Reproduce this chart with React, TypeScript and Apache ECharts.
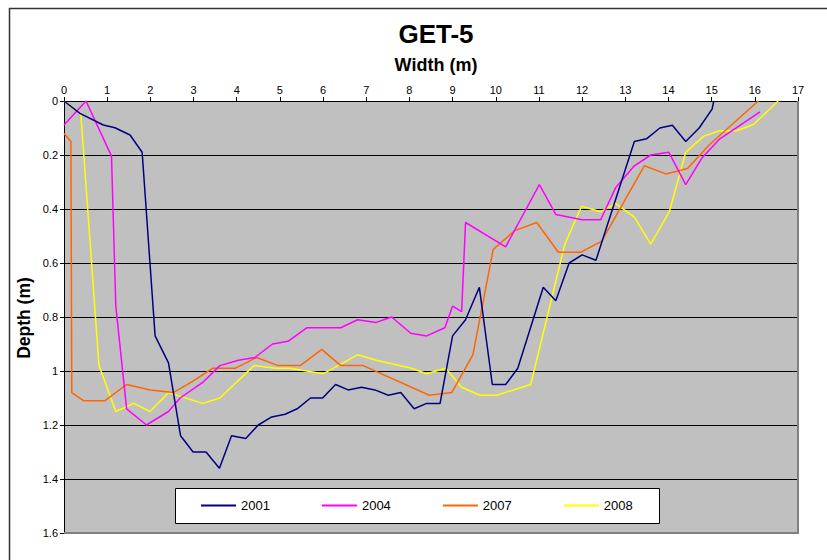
import React, { useEffect, useRef } from "react";
import * as echarts from "echarts";

const seriesNames = ["2001", "2004", "2007", "2008"];
const seriesColors = ["#000080", "#FF00FF", "#FF6600", "#FFFF00"];

const data2001: [number, number][] = [
  [0, 0], [0.37, 0.046], [0.91, 0.089], [1.18, 0.099], [1.53, 0.126], [1.81, 0.19],
  [2.11, 0.87], [2.42, 0.97], [2.7, 1.24], [2.99, 1.3], [3.29, 1.3], [3.6, 1.36],
  [3.88, 1.24], [4.21, 1.25], [4.5, 1.2], [4.81, 1.17], [5.12, 1.16], [5.4, 1.14],
  [5.71, 1.1], [5.99, 1.1], [6.29, 1.05], [6.58, 1.07], [6.89, 1.06], [7.2, 1.07],
  [7.51, 1.09], [7.8, 1.08], [8.11, 1.14], [8.4, 1.12], [8.71, 1.12], [9.0, 0.87],
  [9.3, 0.81], [9.62, 0.69], [9.92, 1.05], [10.23, 1.05], [10.51, 0.99], [11.1, 0.69],
  [11.39, 0.74], [11.7, 0.6], [12.0, 0.57], [12.32, 0.59], [13.21, 0.15], [13.49, 0.14],
  [13.8, 0.1], [14.09, 0.09], [14.4, 0.15], [14.71, 0.1], [15.01, 0.03], [15.05, 0],
];

const data2004: [number, number][] = [
  [0, 0.089], [0.51, 0], [1.1, 0.204], [1.2, 0.76], [1.45, 1.14], [1.91, 1.2],
  [2.42, 1.15], [2.69, 1.1], [3.23, 1.04], [3.61, 0.98], [4.04, 0.96], [4.42, 0.95],
  [4.83, 0.9], [5.19, 0.89], [5.62, 0.84], [6.41, 0.84], [6.8, 0.81], [7.23, 0.82],
  [7.59, 0.8], [8.03, 0.86], [8.4, 0.87], [8.82, 0.84], [9.0, 0.76], [9.21, 0.78],
  [9.3, 0.45], [10.23, 0.54], [11.01, 0.31], [11.39, 0.42], [12.0, 0.44], [12.43, 0.44],
  [12.78, 0.32], [13.21, 0.24], [13.59, 0.2], [14.01, 0.19], [14.4, 0.31], [14.78, 0.21],
  [15.19, 0.14], [16.12, 0.04],
];

const data2007: [number, number][] = [
  [0, 0.12], [0.16, 0.15], [0.18, 1.08], [0.45, 1.11], [0.95, 1.11], [1.45, 1.05],
  [2.0, 1.07], [2.53, 1.08], [2.96, 1.04], [3.44, 0.99], [3.96, 0.99], [4.46, 0.95],
  [4.96, 0.98], [5.47, 0.98], [5.97, 0.92], [6.41, 0.98], [6.93, 0.98], [8.46, 1.09],
  [8.98, 1.08], [9.47, 0.94], [9.94, 0.55], [10.44, 0.48], [10.95, 0.45], [11.45, 0.56],
  [11.97, 0.56], [12.45, 0.52], [13.44, 0.24], [13.94, 0.27], [14.44, 0.25], [14.96, 0.16],
  [16.08, 0],
];

const data2008: [number, number][] = [
  [0, 0], [0.39, 0.048], [0.81, 0.98], [1.2, 1.15], [1.62, 1.12], [1.99, 1.15],
  [2.42, 1.08], [3.21, 1.12], [3.61, 1.1], [4.4, 0.98], [4.89, 0.99], [5.23, 0.99],
  [6.01, 1.01], [6.8, 0.94], [7.23, 0.96], [8.05, 0.99], [8.4, 1.01], [8.84, 0.99],
  [9.21, 1.06], [9.63, 1.09], [10.02, 1.09], [10.81, 1.05], [11.6, 0.53], [11.99, 0.39],
  [12.43, 0.41], [12.78, 0.38], [13.21, 0.43], [13.59, 0.53], [14.02, 0.41], [14.4, 0.19],
  [14.82, 0.13], [15.19, 0.11], [15.58, 0.11], [15.98, 0.086], [16.54, 0],
];

const allData = [data2001, data2004, data2007, data2008];

const FONT = "'Liberation Sans', Arial, sans-serif";

export default function App() {
  const ref = useRef<HTMLDivElement>(null);

  useEffect(() => {
    if (!ref.current) return;
    const chart = echarts.init(ref.current, undefined, { renderer: "svg" });
    chart.setOption({
      animation: false,
      backgroundColor: "#ffffff",
      textStyle: { fontFamily: FONT },
      title: [
        {
          text: "GET-5",
          left: 431,
          top: 16,
          textAlign: "center",
          textStyle: { fontFamily: FONT, fontSize: 26, fontWeight: "bold", color: "#000" },
        },
        {
          text: "Width (m)",
          left: 431,
          top: 51,
          textAlign: "center",
          textStyle: { fontFamily: FONT, fontSize: 18, fontWeight: "bold", color: "#000" },
        },
      ],
      graphic: [
        {
          type: "rect",
          left: 7,
          top: 6,
          shape: { width: 900, height: 700 },
          style: { fill: "none", stroke: "#333", lineWidth: 1.5 },
          silent: true,
          z: -10,
        },
        {
          type: "polyline",
          shape: { points: [[798, 101], [798, 533], [64, 533]] },
          style: { fill: "none", stroke: "#808080", lineWidth: 2 },
          silent: true,
          z: 5,
        },
        {
          type: "rect",
          shape: { x: 175.5, y: 488.5, width: 484, height: 35 },
          style: { fill: "#ffffff", stroke: "#000", lineWidth: 1 },
          silent: true,
          z: 20,
        },
        {
          type: "text",
          x: 24,
          y: 318,
          rotation: Math.PI / 2,
          style: {
            text: "Depth (m)",
            fontFamily: FONT,
            fontSize: 17.5,
            fontWeight: "bold",
            fill: "#000",
            textAlign: "center",
            textVerticalAlign: "middle",
          },
        },
      ],
      grid: {
        left: 64,
        right: 29,
        top: 101,
        bottom: 27,
        show: true,
        backgroundColor: "#C0C0C0",
        borderWidth: 0,
      },
      legend: {
        data: seriesNames.map((n) => ({ name: n, icon: "rect" })),
        left: 201,
        top: 499,
        itemWidth: 35,
        itemHeight: 2,
        itemGap: 52,
        padding: 0,
        z: 30,
        textStyle: { fontFamily: FONT, fontSize: 13, color: "#000", lineHeight: 13 },
      },
      xAxis: {
        type: "value",
        position: "top",
        min: 0,
        max: 17,
        interval: 1,
        axisLine: { show: true, lineStyle: { color: "#000", width: 1 } },
        axisTick: { show: true, length: 4, lineStyle: { color: "#000" } },
        axisLabel: { fontFamily: FONT, fontSize: 11, color: "#000", margin: 6 },
        splitLine: { show: false },
      },
      yAxis: {
        type: "value",
        inverse: true,
        min: 0,
        max: 1.6,
        interval: 0.2,
        axisLine: { show: true, lineStyle: { color: "#000", width: 1 } },
        axisTick: { show: true, length: 4, lineStyle: { color: "#000" } },
        axisLabel: { fontFamily: FONT, fontSize: 11, color: "#000", margin: 6 },
        splitLine: { show: true, lineStyle: { color: "#000", width: 1 } },
      },
      series: seriesNames.map((name, i) => ({
        name,
        type: "line",
        data: allData[i],
        symbol: "none",
        showSymbol: false,
        lineStyle: { color: seriesColors[i], width: 1.5 },
        itemStyle: { color: seriesColors[i] },
        z: 10 - i,
      })),
    });
    return () => chart.dispose();
  }, []);

  return (
    <div
      ref={ref}
      style={{ position: "fixed", left: 0, top: 0, width: 827, height: 560 }}
    />
  );
}
